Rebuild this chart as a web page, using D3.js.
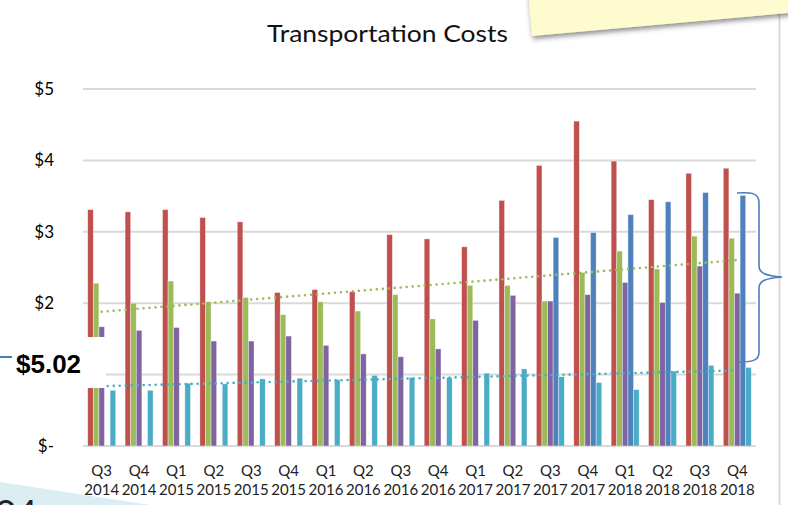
<!DOCTYPE html>
<html>
<head>
<meta charset="utf-8">
<script src="https://cdn.jsdelivr.net/npm/d3@7"></script>
<style>
  html, body { margin: 0; padding: 0; background: #fff; overflow: hidden; }
  text { font-family: Lato, "Open Sans", sans-serif; }
</style>
</head>
<body>
<script>

// quarters on the x axis
var quarters = ["Q3", "Q4", "Q1", "Q2", "Q3", "Q4", "Q1", "Q2", "Q3", "Q4", "Q1", "Q2", "Q3", "Q4", "Q1", "Q2", "Q3", "Q4"];
var years = ["2014", "2014", "2015", "2015", "2015", "2015", "2016", "2016", "2016", "2016", "2017", "2017", "2017", "2017", "2018", "2018", "2018", "2018"];

// cost per unit
var redValues = [3.31, 3.28, 3.31, 3.20, 3.14, 2.15, 2.19, 2.16, 2.96, 2.90, 2.79, 3.44, 3.93, 4.55, 3.99, 3.45, 3.82, 3.89];
var greenValues = [2.28, 2.00, 2.31, 2.02, 2.08, 1.84, 2.02, 1.89, 2.12, 1.78, 2.25, 2.25, 2.03, 2.43, 2.73, 2.48, 2.94, 2.91];
var purpleValues = [1.67, 1.62, 1.66, 1.47, 1.47, 1.54, 1.41, 1.29, 1.25, 1.36, 1.76, 2.11, 2.03, 2.12, 2.29, 2.01, 2.52, 2.14];
var blueValues = [null, null, null, null, null, null, null, null, null, null, null, null, 2.92, 2.99, 3.24, 3.42, 3.55, 3.51];
var cyanValues = [0.78, 0.78, 0.88, 0.87, 0.94, 0.95, 0.93, 0.99, 0.96, 0.96, 1.02, 1.08, 0.97, 0.89, 0.79, 1.05, 1.13, 1.10];

var yTicks = [0, 1, 2, 3, 4, 5];
// the $1 label sits under the $5.02 callout, so it is not drawn
var yLabelTicks = [0, 2, 3, 4, 5];

var seriesList = [
    { name: "red", color: "#c0504d", values: redValues },
    { name: "green", color: "#9bbb59", values: greenValues },
    { name: "purple", color: "#8064a2", values: purpleValues },
    { name: "blue", color: "#4f81bd", values: blueValues },
    { name: "cyan", color: "#4bacc6", values: cyanValues }
];

var W = 788, H = 505;
var svg = d3.select("body").append("svg")
    .attr("width", W)
    .attr("height", H);

var defs = svg.append("defs");
var shadow = defs.append("filter").attr("id", "shadow")
    .attr("x", "-10%").attr("y", "-50%").attr("width", "120%").attr("height", "250%");
shadow.append("feDropShadow")
    .attr("dx", 1).attr("dy", 3).attr("stdDeviation", 2.5)
    .attr("flood-color", "#444").attr("flood-opacity", 0.6);

var idx = d3.range(quarters.length);

var x0 = d3.scaleBand().domain(idx).range([83, 756]).padding(0);
var x1 = d3.scaleBand().domain(seriesList.map(function (s) { return s.name; }))
    .range([0, x0.bandwidth()])
    .paddingInner(0)
    .paddingOuter(0.84);
var y = d3.scaleLinear().domain([0, 5]).range([446, 89]);

// slide border on the right
svg.append("line")
    .attr("x1", 779.5).attr("x2", 779.5)
    .attr("y1", 0).attr("y2", H)
    .attr("stroke", "#d9d9d9").attr("stroke-width", 2);

// gridlines
svg.append("g").selectAll("line")
    .data(yTicks)
    .enter()
    .append("line")
    .attr("x1", 83).attr("x2", 756)
    .attr("y1", function (d) { return y(d); })
    .attr("y2", function (d) { return y(d); })
    .attr("stroke", "#d9d9d9")
    .attr("stroke-width", 2);

// bars
var groups = svg.append("g").selectAll("g")
    .data(seriesList)
    .enter()
    .append("g")
    .attr("fill", function (s) { return s.color; });

groups.selectAll("rect")
    .data(function (s) {
        return s.values.map(function (v, i) { return { name: s.name, v: v, i: i }; })
            .filter(function (d) { return d.v != null; });
    })
    .enter()
    .append("rect")
    .attr("x", function (d) { return x0(d.i) + x1(d.name); })
    .attr("width", x1.bandwidth())
    .attr("y", function (d) { return y(d.v); })
    .attr("height", function (d) { return y(0) - y(d.v); })
    .attr("stroke", "#fff")
    .attr("stroke-opacity", 0.55)
    .attr("stroke-width", 0.7);

// linear trendlines for green and cyan
function trend(values) {
    var n = values.length;
    var mx = d3.mean(idx), my = d3.mean(values);
    var sxy = d3.sum(idx, function (i) { return (i - mx) * (values[i] - my); });
    var sxx = d3.sum(idx, function (i) { return (i - mx) * (i - mx); });
    var b = sxy / sxx, a = my - b * mx;
    return [[0, a], [n - 1, a + b * (n - 1)]];
}

var trendLine = d3.line()
    .x(function (d) { return x0(d[0]) + x0.bandwidth() / 2; })
    .y(function (d) { return y(d[1]); });

[greenValues, cyanValues].forEach(function (vals, k) {
    svg.append("path")
        .attr("d", trendLine(trend(vals)))
        .attr("fill", "none")
        .attr("stroke", k == 0 ? "#9bbb59" : "#4bacc6")
        .attr("stroke-width", 2.6)
        .attr("stroke-linecap", "round")
        .attr("stroke-dasharray", "0,6");
});

// y tick labels
svg.append("g").selectAll("text")
    .data(yLabelTicks)
    .enter()
    .append("text")
    .attr("x", 54)
    .attr("y", function (d) { return y(d); })
    .attr("dy", "0.35em")
    .attr("text-anchor", "end")
    .attr("font-size", 17)
    .attr("fill", "#000")
    .text(function (d) { return d == 0 ? "$-" : "$" + d; });

// x tick labels, two lines
var xl = svg.append("g").selectAll("text")
    .data(idx)
    .enter()
    .append("text")
    .attr("text-anchor", "middle")
    .attr("font-size", 15)
    .attr("fill", "#222");
xl.append("tspan")
    .attr("x", function (i) { return x0(i) + x0.bandwidth() / 2; })
    .attr("y", 476)
    .text(function (i) { return quarters[i]; });
xl.append("tspan")
    .attr("x", function (i) { return x0(i) + x0.bandwidth() / 2; })
    .attr("y", 494.5)
    .text(function (i) { return years[i]; });

// title
svg.append("text")
    .attr("x", 387.5)
    .attr("y", 41.5)
    .attr("text-anchor", "middle")
    .attr("font-size", 23)
    .attr("textLength", 241)
    .attr("lengthAdjust", "spacingAndGlyphs")
    .attr("fill", "#111")
    .text("Transportation Costs");

// callout box over the left of the chart
svg.append("rect")
    .attr("x", 0).attr("y", 337)
    .attr("width", 106).attr("height", 51)
    .attr("fill", "#fff");
svg.append("line")
    .attr("x1", 0).attr("x2", 12)
    .attr("y1", 357).attr("y2", 357)
    .attr("stroke", "#4a7ebb").attr("stroke-width", 2);
svg.append("text")
    .attr("x", 16)
    .attr("y", 373)
    .style("font-family", "'Liberation Sans', Arial, sans-serif")
    .attr("font-weight", "bold")
    .attr("font-size", 26)
    .attr("fill", "#000")
    .text("$5.02");

// curly bracket at the right
svg.append("path")
    .attr("d", "M737,193 C752,192 759,193 759,203 L759,266 C759,273 766,276 782,277 " +
        "C766,278 759,281 759,288 L759,352 C759,361 752,362 737,362")
    .attr("fill", "none")
    .attr("stroke", "#4a7ebb")
    .attr("stroke-width", 1.6);

// sticky note at top right
svg.append("polygon")
    .attr("points", "528,-10 800,-10 800,12 532,36")
    .attr("fill", "#fefccf")
    .attr("filter", "url(#shadow)");

// shape peeking in at bottom left, its text mostly below the edge
svg.append("polygon")
    .attr("points", "0,482 150,505 0,505")
    .attr("fill", "#daedf3");
svg.append("text")
    .attr("x", -4)
    .attr("y", 518)
    .attr("font-size", 24)
    .attr("font-weight", "bold")
    .attr("fill", "#222")
    .text("O 4 · ·");

</script>
</body>
</html>
